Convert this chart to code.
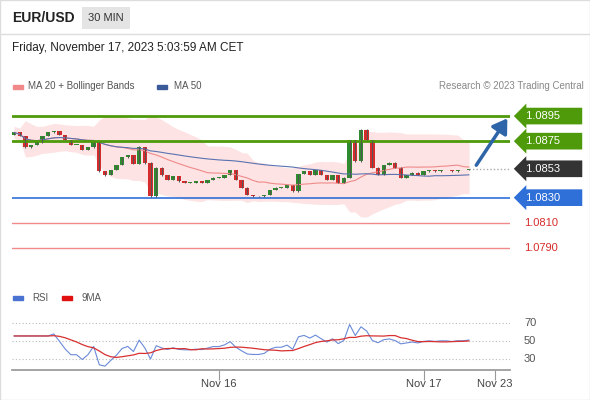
import numpy as np, pandas as pd, seaborn as sns
import matplotlib
matplotlib.use("Agg")
import matplotlib.pyplot as plt
from matplotlib.patches import Rectangle
import matplotlib.transforms as mt

sns.set_theme(style="white")
plt.rcParams['font.family'] = ['Liberation Sans', 'DejaVu Sans']

closes = [1.0882,1.0879,1.0870,1.0872,1.0874,1.0879,1.0882,1.0883,1.0880,1.0876,1.0872,1.0872,1.0868,1.0870,1.0874,
          1.0851,1.0848,1.0852,1.0856,1.0862,1.0864,1.0857,1.0870,1.0858,1.0831,1.0854,1.0848,1.0844,1.0847,1.0843,
          1.0842,1.0842,1.0843,1.0842,1.0844,1.0846,1.0846,1.0848,1.0852,1.0844,1.0838,1.0832,1.0831,1.0831,1.0832,
          1.0836,1.0838,1.0838,1.0840,1.0835,1.0849,1.0851,1.0848,1.0852,1.0848,1.0844,1.0848,1.0842,1.0846,1.0876,
          1.0859,1.0884,1.0876,1.0854,1.0848,1.0856,1.0858,1.0854,1.0846,1.0848,1.0850,1.0848,1.0851,1.0852,1.0851,
          1.0852,1.0852,1.0851,1.0852,1.0852,1.0853]
wick_up = [3,2,2,2,3,3,3,2,2,2,2,2,2,2,2,2,2,3,2,3,3,2,8,3,2,2,2,2,2,2,2,2,2,2,2,2,2,2,3,2,2,2,2,2,2,2,2,2,2,2,
           2,2,2,2,2,2,2,2,3,3,2,6,3,3,3,4,2,3,2,2,2,2,3,2,2,3,2,3,2,2,2]
wick_dn = [2,2,3,3,2,2,2,2,2,2,2,3,2,2,2,2,6,3,2,2,2,2,4,12,2,2,6,3,2,2,2,2,2,2,2,2,2,2,2,2,2,2,3,2,2,2,2,2,2,2,
           2,2,2,2,2,2,2,2,2,2,3,2,2,2,2,2,2,3,3,2,2,2,2,2,3,2,2,2,2,2,2]
levels = [1.0895, 1.0875, 1.0830, 1.0810, 1.0790]
level_colors = ["#4f9a0a", "#4f9a0a", "#2f6fd8", "#f08a8a", "#f08a8a"]
last_price = 1.0853
xtick_pos = [36, 72, 84.5]
xtick_labels = ["Nov 16", "Nov 17", "Nov 23"]

c = pd.Series(closes)
o = c.shift(1).fillna(c.iloc[0] - 0.0002)
hi = np.maximum(o, c) + np.array(wick_up) * 1e-5
lo = np.minimum(o, c) - np.array(wick_dn) * 1e-5
ma20 = c.rolling(20, min_periods=1).mean()
sd = c.rolling(20, min_periods=2).std().bfill()
ma50 = c.rolling(50, min_periods=1).mean()
d = c.diff()
up = d.clip(lower=0).ewm(alpha=1/14, min_periods=6).mean(); dn = (-d.clip(upper=0)).ewm(alpha=1/14, min_periods=6).mean()
rsi = (100 - 100 / (1 + up / dn.replace(0, 1e-9))).bfill()
rsi9 = rsi.rolling(9, min_periods=1).mean()
x = np.arange(len(c))

W, H = 590, 400
fig = plt.figure(figsize=(5.9, 4.0), dpi=100)
def ax_px(l, t, r, b):
    return fig.add_axes([l/W, 1-b/H, (r-l)/W, (b-t)/H])

fig.patches.append(Rectangle((0,0),1,1,transform=fig.transFigure,fill=False,ec="#dddddd",lw=1))
fig.text(12/W, 1-18/H, "EUR/USD", fontsize=10, fontweight="bold", va="center", color="#222")
fig.text(106/W, 1-18/H, "30 MIN", fontsize=8, va="center", ha="center", color="#333",
         bbox=dict(boxstyle="square,pad=0.55", fc="#e4e4e4", ec="none"))
fig.add_artist(plt.Line2D([0,1],[1-34/H]*2, color="#dddddd", lw=1))
fig.text(12/W, 1-48/H, "Friday, November 17, 2023 5:03:59 AM CET", fontsize=8.5, va="center", color="#222")
fig.patches.append(Rectangle((13/W,1-89/H),10/W,4/H,transform=fig.transFigure,color="#f08a8a"))
fig.text(28/W, 1-86/H, "MA 20 + Bollinger Bands", fontsize=7, va="center", color="#555")
fig.patches.append(Rectangle((157/W,1-89/H),10/W,4/H,transform=fig.transFigure,color="#3a5a99"))
fig.text(174/W, 1-86/H, "MA 50", fontsize=7, va="center", color="#555")
fig.text(584/W, 1-86/H, "Research © 2023 Trading Central", fontsize=7, va="center", ha="right", color="#888")

xl = (-0.35, 87.2)
ax = ax_px(12, 100, 510, 280)
ax.set_xlim(*xl); ax.set_ylim(1.07644, 1.09078)
ax.fill_between(x, ma20 - 2.3*sd, ma20 + 2.3*sd, color="#fde3e3", lw=0)
sns.lineplot(x=x, y=ma20, ax=ax, color="#f08a8a", lw=0.8)
sns.lineplot(x=x, y=ma50, ax=ax, color="#5a72b0", lw=0.8)
for lv, col in zip(levels, level_colors):
    ax.axhline(lv, color=col, lw=2 if col == "#4f9a0a" else 1.2 if col == "#2f6fd8" else 1)
ax.plot([x[-1], xl[1]], [last_price]*2, color="#aaaaaa", ls=(0,(1,1.5)), lw=1)
for i in x:
    col = "#2e8b2e" if c[i] >= o[i] else "#d62b2b"
    ax.vlines(i, lo[i], hi[i], color="#555", lw=0.7)
    ax.add_patch(Rectangle((i-0.38, min(o[i], c[i])), 0.76, max(abs(c[i]-o[i]), 0.00004), color=col, lw=0))
ax.annotate("", xy=(87.0, levels[0]), xytext=(81, last_price+0.0001),
            arrowprops=dict(arrowstyle="-|>,head_width=0.45,head_length=0.7", color="#2e64a8", lw=2.5))
tr = mt.blended_transform_factory(fig.transFigure, ax.transData)
boxes = [(levels[0], "#4f9a0a", "white"), (levels[1], "#4f9a0a", "white"), (last_price, "#333333", "white"),
         (levels[2], "#2f6fd8", "white"), (levels[3], None, "#d62b2b"), (levels[4], None, "#d62b2b")]
for val, fc, tc in boxes:
    if fc:
        ax.text(551/W, val, f" {val:.4f}      ", transform=tr, fontsize=8, color=tc, va="center", ha="center", clip_on=False,
                bbox=dict(boxstyle="larrow,pad=0.3", fc=fc, ec="none"))
    else:
        ax.text(524/W, val, f"{val:.4f}", transform=tr, fontsize=8, color=tc, va="center", ha="left", clip_on=False)
ax.axis("off")

fig.patches.append(Rectangle((13/W,1-300/H),10/W,4/H,transform=fig.transFigure,color="#4a72d0"))
fig.text(32/W, 1-298/H, "RSI", fontsize=7, va="center", color="#555")
fig.patches.append(Rectangle((62/W,1-300/H),10/W,4/H,transform=fig.transFigure,color="#e01010"))
fig.text(82/W, 1-298/H, "9MA", fontsize=7, va="center", color="#555")

ax2 = ax_px(12, 305, 510, 368)
ax2.set_xlim(*xl); ax2.set_ylim(20, 90)
for lv in (70, 50, 30):
    ax2.axhline(lv, color="#bbbbbb", ls=(0,(1,2)), lw=0.8)
    ax2.text(524/W, lv, str(lv), transform=mt.blended_transform_factory(fig.transFigure, ax2.transData),
             fontsize=8, va="center", color="#555")
sns.lineplot(x=x, y=rsi, ax=ax2, color="#6a8ad8", lw=0.8)
sns.lineplot(x=x, y=rsi9, ax=ax2, color="#d83030", lw=0.9)
ax2.axis("off")

ax3 = ax_px(12, 370, 510, 398)
ax3.set_xlim(*xl); ax3.set_ylim(0, 1); ax3.set_yticks([])
for s in ("left", "right", "bottom"):
    ax3.spines[s].set_visible(False)
ax3.spines["top"].set_color("#999999")
ax3.set_xticks([]); ax3.set_facecolor("none")
for p, lab in zip(xtick_pos, xtick_labels):
    ax3.vlines(p, 0.65, 1.0, color="#999999", lw=0.8)
    ax3.text(p, 0.5, lab, ha="center", va="center", fontsize=8, color="#444")
fig.savefig("out.png", dpi=100)
